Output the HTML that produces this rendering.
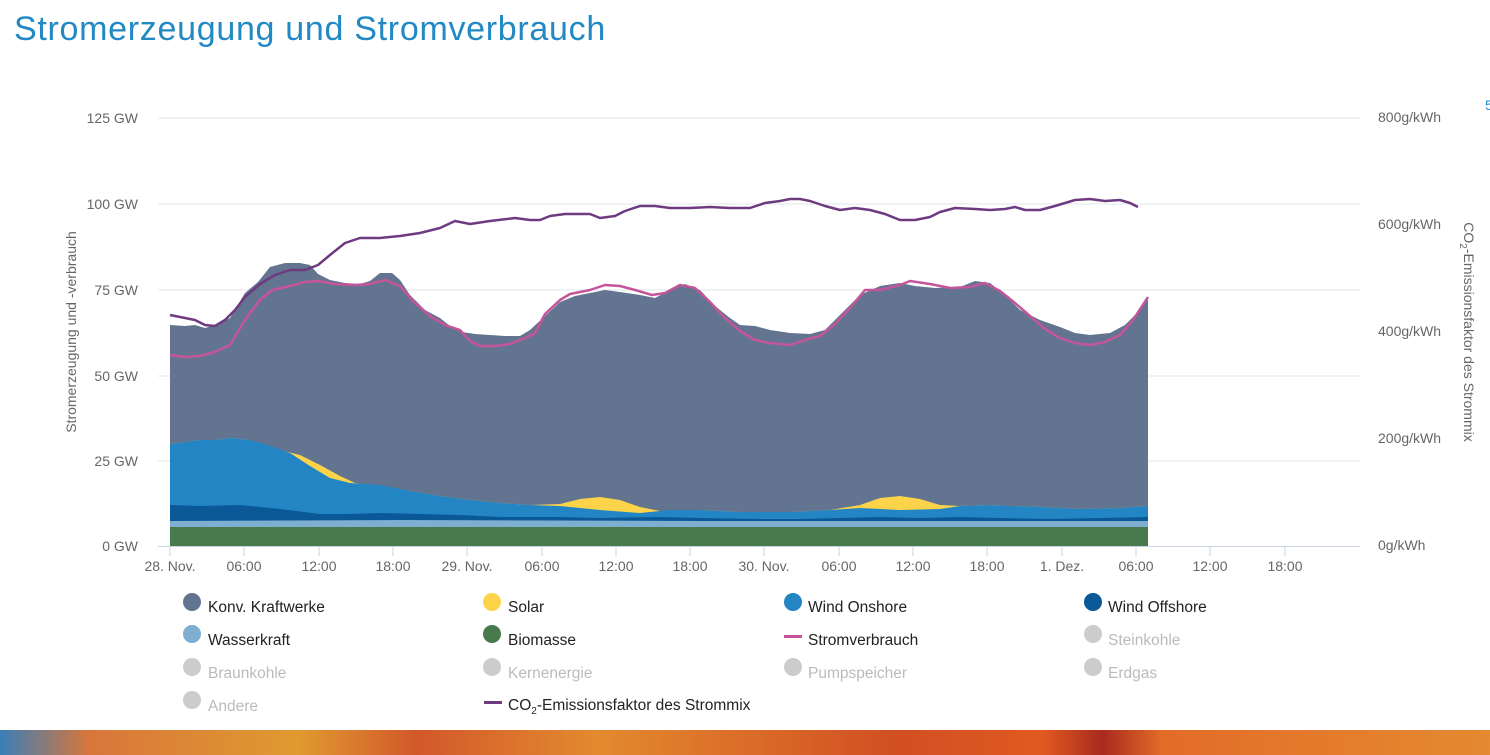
<!DOCTYPE html>
<html><head><meta charset="utf-8"><style>
body{margin:0;width:1490px;height:755px;overflow:hidden;background:#fff;font-family:"Liberation Sans",sans-serif;position:relative}
.t{position:absolute;left:14px;top:10px;font-size:34px;color:#2289c4;letter-spacing:0.7px}
.bar{position:absolute;left:0;top:730px;width:1490px;height:25px;background:linear-gradient(90deg,#3a7fb8 0,#d8763a 6%,#e09a30 20%,#d2582a 28%,#e38a2f 40%,#d24f22 60%,#e05a20 70%,#a82a1e 74%,#e36c28 78%,#e48a30 100%)}
svg{position:absolute;left:0;top:0}
</style></head><body>
<div class="t">Stromerzeugung und Stromverbrauch</div>
<svg width="1490" height="755" font-family="Liberation Sans, sans-serif">
<g stroke="#e1e6ee" stroke-width="1">
<line x1="158" y1="118" x2="1360" y2="118"/><line x1="158" y1="204" x2="1360" y2="204"/><line x1="158" y1="290" x2="1360" y2="290"/><line x1="158" y1="376" x2="1360" y2="376"/><line x1="158" y1="461" x2="1360" y2="461"/>
</g>
<line x1="158" y1="546.5" x2="1360" y2="546.5" stroke="#c9d3e3"/>
<g font-size="14" fill="#666" text-anchor="end">
<text x="138" y="123">125 GW</text><text x="138" y="209">100 GW</text><text x="138" y="295">75 GW</text><text x="138" y="381">50 GW</text><text x="138" y="466">25 GW</text><text x="138" y="551">0 GW</text>
</g>
<g font-size="14" fill="#666">
<text x="1378" y="122">800g/kWh</text><text x="1378" y="229">600g/kWh</text><text x="1378" y="336">400g/kWh</text><text x="1378" y="443">200g/kWh</text><text x="1378" y="550">0g/kWh</text>
</g>
<text transform="translate(76,332) rotate(-90)" font-size="14" fill="#666" text-anchor="middle">Stromerzeugung und -verbrauch</text>
<text transform="translate(1464,332) rotate(90)" font-size="14" fill="#666" text-anchor="middle">CO<tspan font-size="10" dy="4">2</tspan><tspan dy="-4">-Emissionsfaktor des Strommix</tspan></text>
<g stroke="#c9d3e3"><line x1="170" y1="546" x2="170" y2="556"/><line x1="244" y1="546" x2="244" y2="556"/><line x1="319" y1="546" x2="319" y2="556"/><line x1="393" y1="546" x2="393" y2="556"/><line x1="467" y1="546" x2="467" y2="556"/><line x1="542" y1="546" x2="542" y2="556"/><line x1="616" y1="546" x2="616" y2="556"/><line x1="690" y1="546" x2="690" y2="556"/><line x1="764" y1="546" x2="764" y2="556"/><line x1="839" y1="546" x2="839" y2="556"/><line x1="913" y1="546" x2="913" y2="556"/><line x1="987" y1="546" x2="987" y2="556"/><line x1="1062" y1="546" x2="1062" y2="556"/><line x1="1136" y1="546" x2="1136" y2="556"/><line x1="1210" y1="546" x2="1210" y2="556"/><line x1="1285" y1="546" x2="1285" y2="556"/></g>
<g font-size="14" fill="#666" text-anchor="middle">
<text x="170" y="571">28. Nov.</text><text x="244" y="571">06:00</text><text x="319" y="571">12:00</text><text x="393" y="571">18:00</text><text x="467" y="571">29. Nov.</text><text x="542" y="571">06:00</text><text x="616" y="571">12:00</text><text x="690" y="571">18:00</text><text x="764" y="571">30. Nov.</text><text x="839" y="571">06:00</text><text x="913" y="571">12:00</text><text x="987" y="571">18:00</text><text x="1062" y="571">1. Dez.</text><text x="1136" y="571">06:00</text><text x="1210" y="571">12:00</text><text x="1285" y="571">18:00</text>
</g>
<polygon fill="#62748f" points="170,546 170,325 185,326 195,325 205,328 215,325 230,318 245,293 258,282 270,267 285,263 300,263 310,265 318,274 330,280 345,283 360,284 370,281 380,273 392,273 400,280 410,295 425,310 440,318 450,326 462,332 475,334 490,335 505,336 520,336 530,330 545,316 560,302 575,296 590,293 605,290 620,292 640,295 655,298 670,290 685,284 700,290 715,306 730,318 740,325 755,326 770,330 790,333 810,334 825,330 840,315 860,295 880,286 900,283 915,286 935,288 960,287 975,281 990,283 1005,295 1020,310 1040,320 1060,327 1075,333 1090,335 1110,333 1125,325 1140,310 1148,297 1148,546"/>
<polygon fill="#fdd34a" points="170,546 170,444 200,440 215,440 230,438 250,440 265,446 280,450 300,455 320,465 340,476 355,483 370,485 410,491 440,496 470,500 500,503 530,505 560,504 580,499 600,497 620,500 640,507 660,511 700,510 740,512 790,512 830,510 860,505 880,498 900,496 920,499 940,505 960,506 990,505 1040,507 1080,509 1120,508 1148,506 1148,546"/>
<polygon fill="#2385c4" points="170,546 170,444 200,440 215,440 230,438 250,440 265,444 290,453 310,466 330,478 350,483 380,485 410,491 440,496 470,500 500,503 530,505 560,506 600,510 640,513 670,510 700,510 740,512 790,512 830,510 860,508 900,510 940,509 960,506 990,505 1040,507 1080,509 1120,508 1148,506 1148,546"/>
<polygon fill="#0b5896" points="170,546 170,505 200,506 240,505 280,509 320,514 350,514 380,513 420,514 460,515 500,517 560,517 600,518 660,517 700,518 760,519 800,519 840,518 880,517 920,518 960,517 1000,518 1050,519 1100,518 1148,517 1148,546"/>
<polygon fill="#7eaed0" points="170,546 170,521 400,520 700,521 1148,521 1148,546"/>
<polygon fill="#487a4e" points="170,546 170,527 1148,527 1148,546"/>
<polyline fill="none" stroke="#c5559a" stroke-width="2.5" stroke-linejoin="round" points="170,355 185,357 200,356 215,352 230,345 245,320 260,300 272,290 290,286 305,282 318,281 335,284 355,285 370,284 385,280 400,286 415,303 430,316 445,325 460,330 470,341 480,346 495,346 510,344 525,338 535,333 545,314 560,300 570,294 590,290 605,285 620,286 635,290 652,295 665,293 680,285 695,288 710,302 725,318 740,331 755,340 770,343 790,345 805,340 820,336 835,324 850,308 865,290 880,290 900,285 910,281 930,284 950,288 970,287 985,283 1000,291 1015,303 1030,316 1045,329 1060,338 1075,343 1090,345 1105,342 1120,335 1133,320 1148,297"/>
<polyline fill="none" stroke="#6e3a80" stroke-width="2.5" stroke-linejoin="round" points="170,315 180,317 195,320 205,325 215,326 225,320 235,310 245,297 260,284 275,275 290,270 305,270 318,265 330,255 345,243 360,238 380,238 400,236 420,233 440,228 455,221 470,224 490,221 515,218 530,220 540,220 550,216 565,214 590,214 600,218 615,216 625,211 640,206 655,206 670,208 690,208 710,207 730,208 750,208 765,203 780,201 790,199 800,199 810,201 825,206 840,210 855,208 870,210 885,214 900,220 915,220 930,217 940,212 955,208 975,209 990,210 1005,209 1015,207 1025,210 1040,210 1055,206 1075,200 1090,199 1105,201 1120,200 1130,203 1138,207"/>
<g font-size="15.5">
<circle cx="192" cy="602" r="9" fill="#62748f"/><text x="208" y="612" fill="#222">Konv. Kraftwerke</text>
<circle cx="492" cy="602" r="9" fill="#fdd34a"/><text x="508" y="612" fill="#222">Solar</text>
<circle cx="793" cy="602" r="9" fill="#2385c4"/><text x="808" y="612" fill="#222">Wind Onshore</text>
<circle cx="1093" cy="602" r="9" fill="#0b5896"/><text x="1108" y="612" fill="#222">Wind Offshore</text>
<circle cx="192" cy="634" r="9" fill="#7eaed0"/><text x="208" y="645" fill="#222">Wasserkraft</text>
<circle cx="492" cy="634" r="9" fill="#487a4e"/><text x="508" y="645" fill="#222">Biomasse</text>
<rect x="784" y="635" width="18" height="3" fill="#c5559a"/><text x="808" y="645" fill="#222">Stromverbrauch</text>
<circle cx="1093" cy="634" r="9" fill="#ccc"/><text x="1108" y="645" fill="#bbb">Steinkohle</text>
<circle cx="192" cy="667" r="9" fill="#ccc"/><text x="208" y="678" fill="#bbb">Braunkohle</text>
<circle cx="492" cy="667" r="9" fill="#ccc"/><text x="508" y="678" fill="#bbb">Kernenergie</text>
<circle cx="793" cy="667" r="9" fill="#ccc"/><text x="808" y="678" fill="#bbb">Pumpspeicher</text>
<circle cx="1093" cy="667" r="9" fill="#ccc"/><text x="1108" y="678" fill="#bbb">Erdgas</text>
<circle cx="192" cy="700" r="9" fill="#ccc"/><text x="208" y="711" fill="#bbb">Andere</text>
<rect x="484" y="701" width="18" height="3" fill="#6e3a80"/><text x="508" y="710" fill="#222">CO<tspan font-size="10" dy="4">2</tspan><tspan dy="-4">-Emissionsfaktor des Strommix</tspan></text>
</g>
<text x="1485" y="110" font-size="14" fill="#2289c4">5</text>
</svg>
<div class="bar"></div>
</body></html>
